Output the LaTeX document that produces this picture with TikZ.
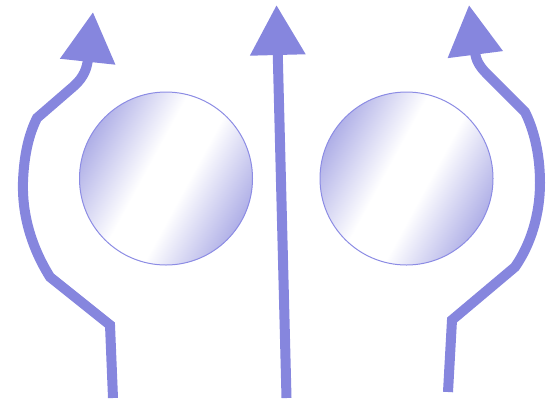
\documentclass[tikz,border=0pt]{standalone}
\usetikzlibrary{arrows.meta}
\definecolor{flow}{RGB}{134,134,222}
\definecolor{ballshade}{RGB}{126,126,216}
\definecolor{ballline}{RGB}{140,140,228}
\colorlet{ballmid}{ballshade!55!white}
\pgfdeclarehorizontalshading{ballsh}{100bp}{color(0bp)=(ballshade); color(13bp)=(ballshade); color(27bp)=(ballmid); color(44bp)=(white); color(56bp)=(white); color(73bp)=(ballmid); color(87bp)=(ballshade); color(100bp)=(ballshade)}
\tikzset{
  flowarrow/.style={draw=flow, line width=10pt, line join=miter,
    -{Triangle[length=50pt,width=53pt]}},
  ball/.style={circle, minimum size=173pt, inner sep=0pt, draw=ballline, line width=1pt,
    shading=ballsh, shading angle=-28.5}
}
\begin{document}
\begin{tikzpicture}[x=1pt,y=-1pt]
\useasboundingbox (0,0) rectangle (546,400);
\node[ball] (c1) at (166,178.5) {};
\node[ball] (c2) at (406.5,178.5) {};
% left arrow
\draw[flowarrow] (113,398) -- (110,325) -- (50,277)
  .. controls (30,245) and (22,212) .. (23,182)
  .. controls (24,152) and (30,132) .. (37,118)
  -- (74,86) .. controls (84,77) and (87,68) .. (93,12);
% middle arrow
\draw[flowarrow] (286.5,398) -- (276.5,5);
% right arrow
\draw[flowarrow] (448,392) -- (452,320) -- (515,267)
  .. controls (531,244) and (540,214) .. (540,183)
  .. controls (540,152) and (533,128) .. (525,112)
  -- (487,74) .. controls (479,66) and (476,60) .. (469,5);
\end{tikzpicture}
\end{document}
